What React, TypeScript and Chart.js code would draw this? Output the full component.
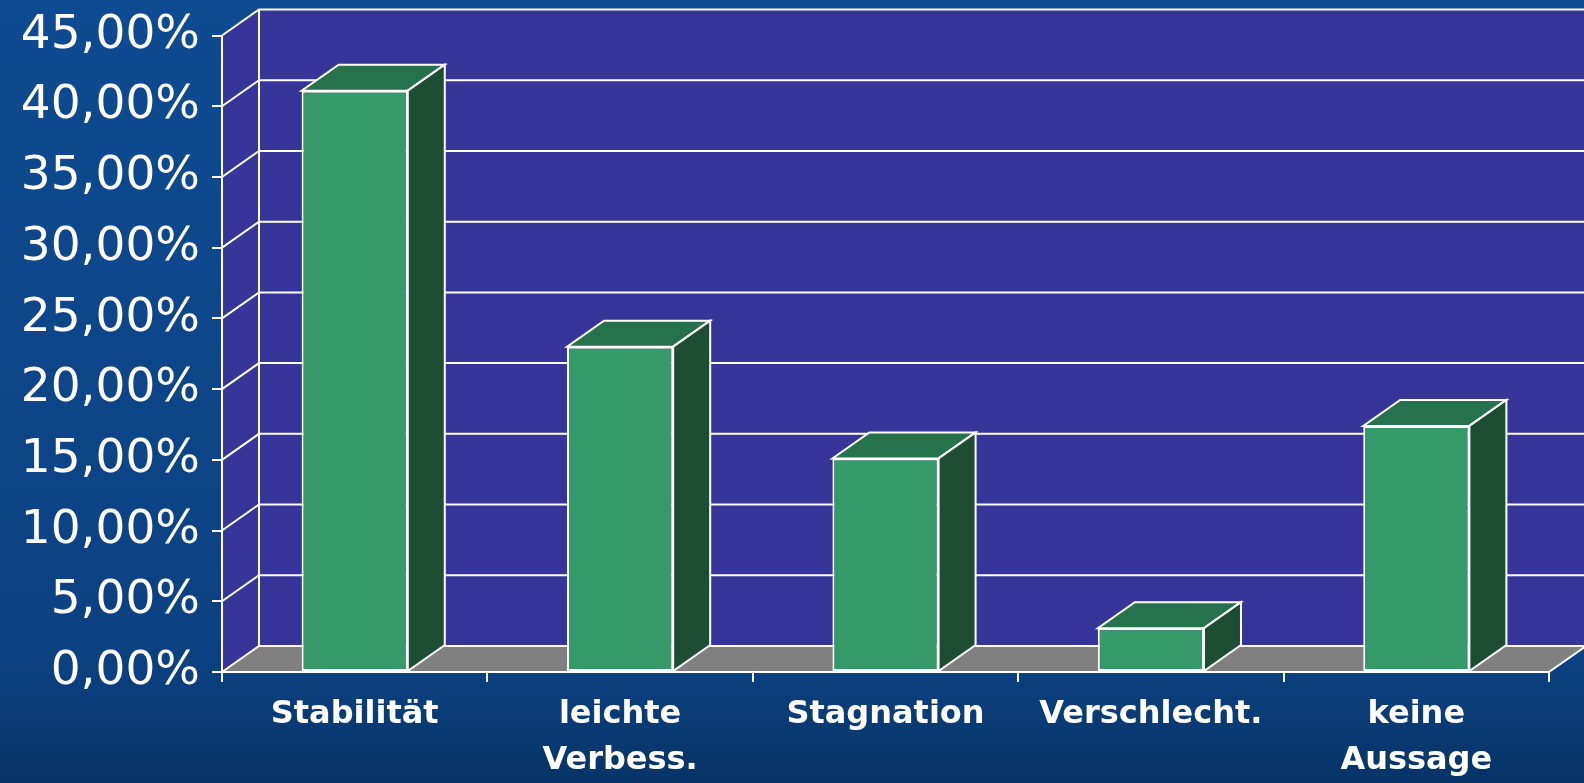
import React, { useEffect, useRef } from "react";
import { Chart, registerables } from "chart.js";

Chart.register(...registerables);

const categories: (string | string[])[] = [
  "Stabilität",
  ["leichte", "Verbess."],
  "Stagnation",
  "Verschlecht.",
  ["keine", "Aussage"],
];
const shares: number[] = [41.1, 23.0, 15.1, 3.1, 17.4];
const yMax = 45;
const yStep = 5;

const DX = 37;
const DY = -26;
const WALL = "#373599";
const FLOOR = "#808080";
const FRONT = "#36996A";
const TOP = "#26724C";
const SIDE = "#1D4D33";

const poly = (ctx: CanvasRenderingContext2D, pts: number[][], fill?: string, stroke = true) => {
  ctx.beginPath();
  ctx.moveTo(pts[0][0], pts[0][1]);
  for (let i = 1; i < pts.length; i++) ctx.lineTo(pts[i][0], pts[i][1]);
  ctx.closePath();
  if (fill) {
    ctx.fillStyle = fill;
    ctx.fill();
  }
  if (stroke) ctx.stroke();
};

const threeD = {
  id: "threeD",
  beforeDraw(chart: any) {
    const { ctx, chartArea: a, scales } = chart;
    const y = scales.y;
    ctx.save();
    const g = ctx.createLinearGradient(0, 0, 0, chart.height);
    g.addColorStop(0, "#0f4b91");
    g.addColorStop(0.85, "#0c4180");
    g.addColorStop(1, "#073466");
    ctx.fillStyle = g;
    ctx.fillRect(0, 0, chart.width, chart.height);

    const top = y.getPixelForValue(yMax);
    const bot = y.getPixelForValue(0);
    // back wall
    ctx.fillStyle = WALL;
    ctx.fillRect(a.left + DX, top + DY, chart.width, bot - top);
    // left wall
    poly(ctx, [[a.left, top], [a.left + DX, top + DY], [a.left + DX, bot + DY], [a.left, bot]], WALL, false);
    // floor
    poly(ctx, [[a.left, bot], [a.right, bot], [a.right + DX, bot + DY], [a.left + DX, bot + DY]], FLOOR, false);

    ctx.strokeStyle = "#ffffff";
    ctx.lineWidth = 2;
    for (let v = 0; v <= yMax; v += yStep) {
      const yy = y.getPixelForValue(v);
      ctx.beginPath();
      ctx.moveTo(a.left, yy);
      ctx.lineTo(a.left + DX, yy + DY);
      ctx.lineTo(chart.width + 10, yy + DY);
      ctx.stroke();
    }
    ctx.beginPath();
    ctx.moveTo(a.left + DX, top + DY);
    ctx.lineTo(a.left + DX, bot + DY);
    ctx.stroke();
    ctx.beginPath();
    ctx.moveTo(a.right, bot);
    ctx.lineTo(a.right + DX, bot + DY);
    ctx.stroke();
    ctx.restore();
  },
  afterDatasetsDraw(chart: any) {
    const { ctx } = chart;
    const meta = chart.getDatasetMeta(0);
    ctx.save();
    ctx.strokeStyle = "#ffffff";
    ctx.lineWidth = 2;
    ctx.lineJoin = "miter";
    meta.data.forEach((bar: any) => {
      const { x, y, base, width } = bar.getProps(["x", "y", "base", "width"], true);
      const l = x - width / 2;
      const r = x + width / 2;
      poly(ctx, [[l, y], [r, y], [r + DX, y + DY], [l + DX, y + DY]], TOP);
      poly(ctx, [[r, y], [r + DX, y + DY], [r + DX, base + DY], [r, base]], SIDE);
    });
    ctx.restore();
  },
};

export default function App() {
  const ref = useRef<HTMLCanvasElement | null>(null);
  useEffect(() => {
    document.body.style.margin = "0";
    document.body.style.overflow = "hidden";
    const canvas = ref.current!;
    const chart = new Chart(canvas, {
      type: "bar",
      data: {
        labels: categories,
        datasets: [
          {
            data: shares,
            backgroundColor: FRONT,
            borderColor: "#ffffff",
            borderWidth: 2,
            borderSkipped: false,
            categoryPercentage: 1,
            barPercentage: 0.4,
          },
        ],
      },
      options: {
        responsive: false,
        animation: false,
        layout: { padding: { left: 0, right: 35, top: 35, bottom: 0 } },
        plugins: { legend: { display: false }, tooltip: { enabled: false } },
        scales: {
          x: {
            afterFit: (s: any) => {
              s.height = 111;
            },
            grid: {
              display: true,
              drawOnChartArea: false,
              drawTicks: true,
              tickLength: 10,
              color: "#ffffff",
              lineWidth: 2,
              offset: true,
            },
            border: { display: true, color: "#ffffff", width: 2 },
            ticks: {
              color: "#ffffff",
              maxRotation: 0,
              autoSkip: false,
              padding: 10,
              font: { family: "DejaVu Sans", weight: "bold", size: 32, lineHeight: 1.44 },
            },
          },
          y: {
            min: 0,
            max: yMax,
            afterFit: (s: any) => {
              s.width = 222;
            },
            grid: {
              display: true,
              drawOnChartArea: false,
              drawTicks: true,
              tickLength: 10,
              color: "#ffffff",
              lineWidth: 2,
            },
            border: { display: true, color: "#ffffff", width: 2 },
            ticks: {
              stepSize: yStep,
              color: "#ffffff",
              padding: 12,
              font: { family: "DejaVu Sans", weight: "normal", size: 47, lineHeight: 1 },
              callback: (v: any) => Number(v).toFixed(2).replace(".", ",") + "%",
            },
          },
        },
      },
      plugins: [threeD],
    });
    return () => chart.destroy();
  }, []);
  return <canvas ref={ref} width={1584} height={783} style={{ display: "block" }} />;
}
